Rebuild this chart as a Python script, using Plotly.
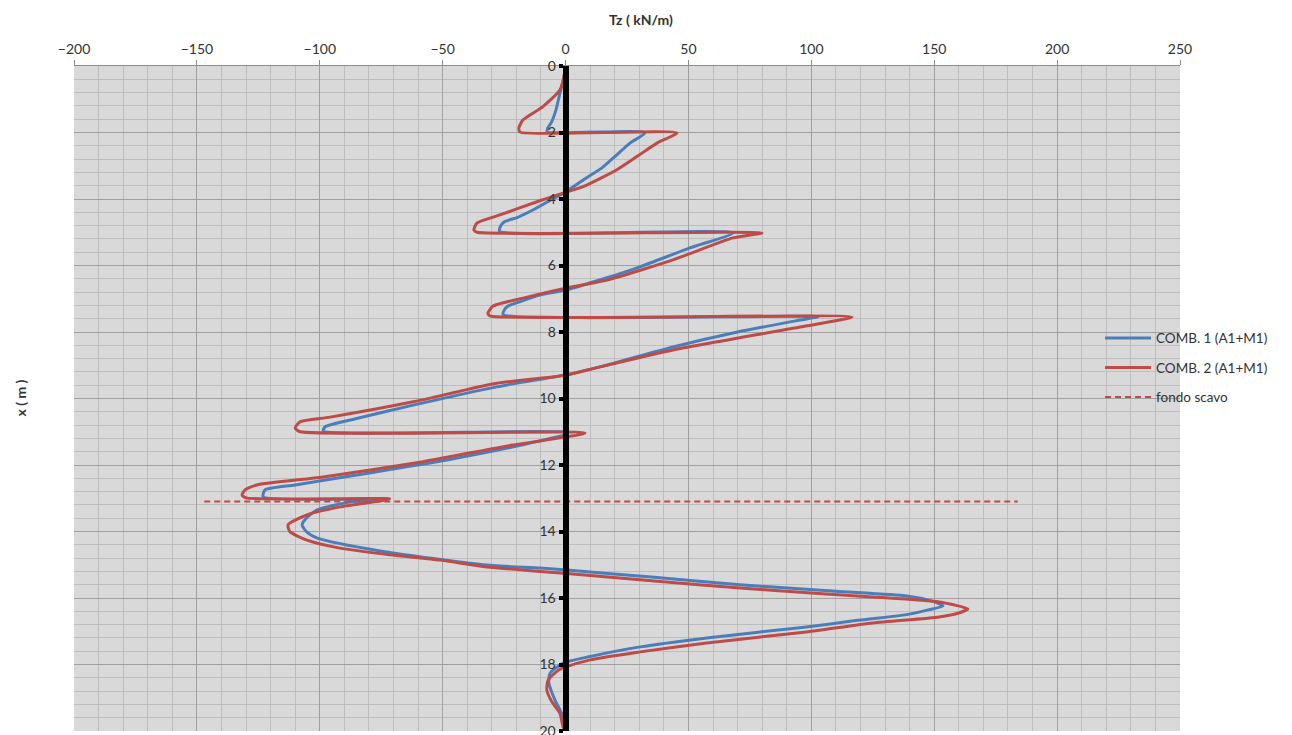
import plotly.graph_objects as go

# Depth (m) and shear Tz (kN/m) along the wall
depth_c1 = [0, 0.4, 0.82, 1.32, 1.7, 1.86, 1.98, 2.0, 2.32, 2.7, 3.04, 3.4, 3.79, 4.05, 4.33, 4.55,
            4.69, 4.82, 4.98, 5.02, 5.47, 6.04, 6.4, 6.74, 6.89, 7.1, 7.22, 7.35, 7.48, 7.54, 7.64,
            8.0, 8.45, 9.05, 9.29, 9.65, 10.2, 10.6, 10.85, 10.98, 11.03, 11.4, 11.85, 12.3, 12.6,
            12.75, 12.96, 13.02, 13.11, 13.35, 13.6, 13.8, 14.0, 14.2, 14.6, 15.0, 15.1, 15.16,
            15.37, 15.6, 15.8, 15.94, 16.1, 16.24, 16.35, 16.5, 16.68, 16.87, 17.2, 17.47, 17.76,
            17.96, 18.26, 18.56, 19.07, 19.57, 20.0]
tz_c1 = [0, -0.8, -2.3, -3.9, -5.8, -7.2, -7.5, 32.5, 26.2, 20.4, 15.2, 7.8, 0, -6.5, -13.3, -19.5,
         -25.0, -26.5, -26.8, 68.1, 50.6, 30.3, 15.5, 0, -10.4, -19.0, -23.4, -25.0, -25.4, 102.7, 95.4,
         70.0, 43.7, 14.0, 0, -28.0, -62.0, -85.0, -97.8, -98.6, 1.0, -18.0, -48.3, -85.0, -110.0,
         -122.3, -123.0, -72.0, -87.7, -101.0, -105.5, -107.2, -105.5, -101.0, -74.2, -33.6, -10.4, 0.6,
         35.0, 71.0, 110.0, 138.8, 149.5, 153.6, 148.0, 138.8, 118.0, 98.0, 57.4, 30.3, 10.0,
         -1.0, -6.3, -6.8, -4.3, -1.0, 0]

depth_c2 = [0, 0.3, 0.72, 1.22, 1.62, 1.86, 1.99, 2.01, 2.32, 2.7, 3.12, 3.63, 3.8, 4.03, 4.48, 4.72,
            4.93, 5.0, 5.02, 5.17, 5.83, 6.44, 6.68, 6.98, 7.22, 7.44, 7.52, 7.55, 7.85, 8.54, 9.05,
            9.3, 9.54, 10.1, 10.56, 10.7, 10.89, 11.0, 11.04, 11.4, 11.9, 12.36, 12.6, 12.75, 12.9,
            12.99, 13.02, 13.26, 13.5, 13.8, 14.0, 14.26, 14.5, 14.7, 14.86, 15.05, 15.2, 15.26,
            15.48, 15.7, 15.85, 15.97, 16.12, 16.33, 16.45, 16.57, 16.75, 17.02, 17.35, 17.62, 17.86,
            18.1, 18.17, 18.47, 18.77, 19.13, 19.46, 19.88, 20.0]
tz_c2 = [0, -0.6, -2.3, -9.2, -17.3, -19.0, -18.5, 45.3, 37.2, 29.5, 20.9, 7.1, 0, -9.6, -26.7, -36.0,
         -37.3, -36.0, 79.9, 68.1, 43.7, 16.8, 0, -17.3, -29.5, -31.6, -30.5, 116.6, 95.4, 43.7, 14.0,
         0, -28.0, -62.0, -95.8, -108.0, -110.0, -108.0, 7.9, -21.4, -58.0, -98.6, -125.6, -130.4, -131.6,
         -130.0, -71.5, -91.8, -105.2, -112.9, -112.2, -105.2, -91.8, -71.5, -51.0, -33.6, -10.4, 0.6,
         35.0, 71.0, 100.0, 125.0, 152.0, 163.7, 160.0, 152.0, 125.0, 98.0, 57.4, 30.3, 10.0,
         -1.0, -3.0, -7.1, -7.6, -5.5, -2.3, -1.0, 0]

# Excavation bottom level
scavo_depth = 13.1
scavo_x = [-147, 184]

series_names = ["COMB. 1 (A1+M1)", "COMB. 2 (A1+M1)", "fondo scavo"]
x_ticks = [-200, -150, -100, -50, 0, 50, 100, 150, 200, 250]
y_ticks = [0, 2, 4, 6, 8, 10, 12, 14, 16, 18, 20]

FONT = "Lato, 'Open Sans', sans-serif"
BLUE = "#4a7ebb"
RED = "#be4b48"

fig = go.Figure()
fig.add_trace(go.Scatter(x=tz_c1, y=depth_c1, mode="lines", name=series_names[0],
                         legendgroup="g1",
                         line=dict(color=BLUE, width=3, shape="spline", smoothing=0.6)))
fig.add_trace(go.Scatter(x=tz_c2, y=depth_c2, mode="lines", name=series_names[1],
                         legendgroup="g2",
                         line=dict(color=RED, width=3, shape="spline", smoothing=0.6)))
fig.add_trace(go.Scatter(x=scavo_x, y=[scavo_depth, scavo_depth], mode="lines", name=series_names[2],
                         legendgroup="g3",
                         line=dict(color=RED, width=2, dash="6px,4px")))

fig.update_layout(
    width=1292, height=735,
    margin=dict(l=74, r=112, t=66, b=4),
    paper_bgcolor="white",
    plot_bgcolor="#d9d9d9",
    font=dict(family=FONT, size=14, color="#333333"),
    showlegend=True,
    legend=dict(x=0.9277, y=0.614, xanchor="left", yanchor="top",
                bgcolor="rgba(0,0,0,0)", font=dict(size=13.5, color="#333333"),
                traceorder="grouped", tracegroupgap=9, itemwidth=46),
    xaxis=dict(
        side="top", range=[-200, 250], tickvals=x_ticks,
        showgrid=True, gridcolor="#a0a0a0", gridwidth=1,
        minor=dict(dtick=10, tick0=0, showgrid=True, gridcolor="#bebebe", gridwidth=1),
        showline=True, linecolor="#8c8c8c", linewidth=1,
        ticks="outside", ticklen=5, tickcolor="#8c8c8c",
        zeroline=False, tickfont=dict(size=14, color="#333333"),
        automargin=False,
    ),
    yaxis=dict(
        range=[20, 0], tickvals=y_ticks,
        anchor="free", position=200 / 450,
        showgrid=True, gridcolor="#a0a0a0", gridwidth=1,
        minor=dict(dtick=0.4, tick0=0, showgrid=True, gridcolor="#bebebe", gridwidth=1),
        showline=True, linecolor="black", linewidth=6,
        ticks="outside", ticklen=4, tickwidth=4, tickcolor="black",
        ticklabeloverflow="allow", automargin=False,
        zeroline=False, tickfont=dict(size=14, color="#333333"),
    ),
    annotations=[
        dict(text="<b>Tz ( kN/m)</b>", x=0.513, y=1, xref="paper", yref="paper",
             xanchor="center", yanchor="bottom", yshift=36, showarrow=False,
             font=dict(size=14, color="#333333")),
        dict(text="<b>x ( m )</b>", x=0, y=0.5, xref="paper", yref="paper",
             xanchor="center", yanchor="middle", xshift=-54, textangle=-90, showarrow=False,
             font=dict(size=14, color="#333333")),
    ],
)

fig.write_html("out.html")
